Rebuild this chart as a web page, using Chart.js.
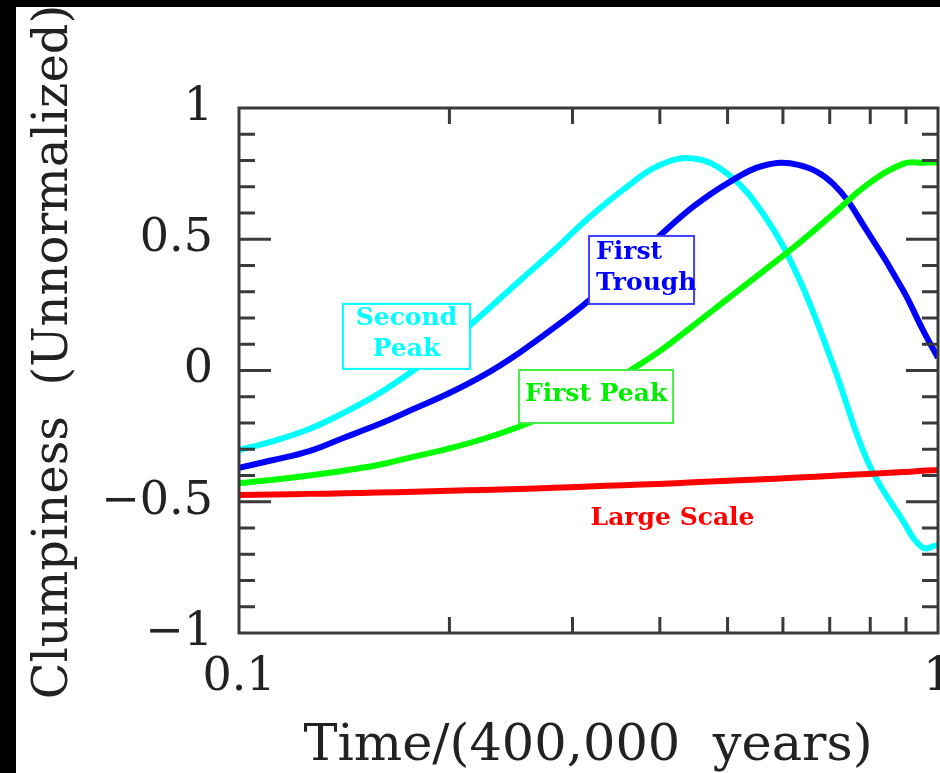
<!DOCTYPE html>
<html>
<head>
<meta charset="utf-8">
<script src="https://cdn.jsdelivr.net/npm/chart.js@4"></script>
<style>
  html, body { margin: 0; padding: 0; background: #000; overflow: hidden; }
  #wrap { position: absolute; left: 16px; top: 7px; width: 924px; height: 766px; background: #fff; }
</style>
</head>
<body>
<div id="wrap"><canvas id="chart"></canvas></div>
<script>
// time in units of 400,000 years (log axis)
const times = [0.1, 0.112, 0.126, 0.141, 0.158, 0.178, 0.2, 0.224, 0.251, 0.282, 0.316, 0.355, 0.398, 0.447, 0.501, 0.562, 0.631, 0.708, 0.794, 0.891, 0.95, 1.0];

const secondPeak = [-0.303, -0.269, -0.223, -0.162, -0.090, 0.002, 0.105, 0.219, 0.337, 0.457, 0.580, 0.690, 0.780, 0.808, 0.747, 0.597, 0.356, 0.021, -0.349, -0.573, -0.674, -0.665];
const firstTrough = [-0.371, -0.341, -0.307, -0.257, -0.206, -0.146, -0.086, -0.018, 0.065, 0.162, 0.265, 0.390, 0.509, 0.625, 0.715, 0.780, 0.783, 0.711, 0.526, 0.307, 0.158, 0.048];
const firstPeak = [-0.429, -0.416, -0.400, -0.382, -0.360, -0.328, -0.297, -0.260, -0.215, -0.160, -0.095, -0.015, 0.070, 0.172, 0.275, 0.378, 0.483, 0.596, 0.710, 0.787, 0.792, 0.792];
const largeScale = [-0.474, -0.472, -0.470, -0.468, -0.465, -0.462, -0.458, -0.455, -0.451, -0.447, -0.442, -0.437, -0.432, -0.426, -0.420, -0.414, -0.408, -0.401, -0.394, -0.387, -0.382, -0.379];

const xTitle = 'Time/(400,000  years)';
const yTitle = 'Clumpiness  (Unnormalized)';

// curve labels, anchored in data coordinates
const notes = [
    { lines: ['Second', 'Peak'], x: 0.1736, y: 0.130, w: 127, h: 65, text: '#00ffff', border: '#00ffff', align: 'center' },
    { lines: ['First', 'Trough'], x: 0.3766, y: 0.383, w: 105, h: 68, text: '#0000ff', border: '#4040ff', align: 'left' },
    { lines: ['First Peak'], x: 0.3242, y: -0.099, w: 154, h: 53, text: '#00ee00', border: '#44ee44', align: 'center' },
    { lines: ['Large Scale'], x: 0.4171, y: -0.570, text: '#ff0000', align: 'center' }
];

const points = arr => times.map((t, i) => ({ x: t, y: arr[i] }));

const curve = (label, arr, color) => ({
    label: label,
    data: points(arr),
    borderColor: color,
    borderWidth: 6,
    pointRadius: 0,
    fill: false,
    tension: 0.4
});

// 1..9 times a power of ten
const isLogTick = v => {
    const m = v / Math.pow(10, Math.floor(Math.log10(v) + 1e-9));
    return Math.abs(m - Math.round(m)) < 1e-6;
};
const isDecade = v => {
    const lg = Math.log10(v);
    return Math.abs(lg - Math.round(lg)) < 1e-6;
};

const frame = {
    id: 'frame',
    afterDatasetsDraw(chart) {
        const { ctx, chartArea: a, scales: { x, y } } = chart;
        ctx.save();

        // labels with white boxes over the curves
        notes.forEach(n => {
            const cx = x.getPixelForValue(n.x);
            const cy = y.getPixelForValue(n.y);
            if (n.w) {
                ctx.fillStyle = '#fff';
                ctx.fillRect(cx - n.w / 2, cy - n.h / 2, n.w, n.h);
                ctx.strokeStyle = n.border;
                ctx.lineWidth = 2;
                ctx.strokeRect(cx - n.w / 2, cy - n.h / 2, n.w, n.h);
            }
            ctx.font = 'bold 25px "DejaVu Serif"';
            ctx.fillStyle = n.text;
            ctx.textBaseline = 'middle';
            const step = 31;
            const y0 = cy - (n.lines.length - 1) * step / 2 - 2;
            n.lines.forEach((s, i) => {
                if (n.align === 'left') {
                    ctx.textAlign = 'left';
                    ctx.fillText(s, cx - n.w / 2 + 7, y0 + i * step);
                } else {
                    ctx.textAlign = 'center';
                    ctx.fillText(s, cx, y0 + i * step);
                }
            });
        });

        // box and inward ticks
        ctx.strokeStyle = '#3a3a3a';
        ctx.lineWidth = 3;
        ctx.strokeRect(a.left, a.top, a.right - a.left, a.bottom - a.top);
        ctx.beginPath();
        y.ticks.forEach(t => {
            const r = Math.round(t.value * 10);
            if (Math.abs(r) === 10) return;
            const len = r % 5 === 0 ? 32 : 16;
            const py = y.getPixelForValue(t.value);
            ctx.moveTo(a.left, py); ctx.lineTo(a.left + len, py);
            ctx.moveTo(a.right, py); ctx.lineTo(a.right - len, py);
        });
        x.ticks.forEach(t => {
            if (!isLogTick(t.value) || isDecade(t.value)) return;
            const px = x.getPixelForValue(t.value);
            ctx.moveTo(px, a.bottom); ctx.lineTo(px, a.bottom - 16);
            ctx.moveTo(px, a.top); ctx.lineTo(px, a.top + 16);
        });
        ctx.stroke();

        // axis titles
        ctx.fillStyle = '#222';
        ctx.textAlign = 'center';
        ctx.textBaseline = 'alphabetic';
        ctx.font = '51px "DejaVu Serif"';
        ctx.fillText(xTitle, 572, 753);
        ctx.translate(51, 345);
        ctx.rotate(-Math.PI / 2);
        ctx.font = '48px "DejaVu Serif"';
        ctx.fillText(yTitle, 0, 0);
        ctx.restore();
    }
};

new Chart(document.getElementById('chart'), {
    type: 'line',
    data: {
        datasets: [
            curve('Large Scale', largeScale, '#ff0000'),
            curve('First Peak', firstPeak, '#00ff00'),
            curve('First Trough', firstTrough, '#0000ff'),
            curve('Second Peak', secondPeak, '#00ffff')
        ]
    },
    options: {
        responsive: true,
        maintainAspectRatio: false,
        animation: false,
        layout: { padding: { top: 101, right: 2, left: 0, bottom: 0 } },
        plugins: { legend: { display: false }, tooltip: { enabled: false } },
        scales: {
            x: {
                type: 'logarithmic',
                min: 0.1,
                max: 1,
                grid: { display: false, drawTicks: false },
                border: { display: false },
                ticks: {
                    autoSkip: false,
                    maxRotation: 0,
                    padding: 17,
                    color: '#222',
                    font: { family: 'DejaVu Serif', size: 46 },
                    callback: v => isDecade(v) ? String(+v.toPrecision(3)) : ''
                },
                afterFit: s => { s.height = 140; s.paddingLeft = 0; s.paddingRight = 0; }
            },
            y: {
                min: -1,
                max: 1,
                grid: { display: false, drawTicks: false },
                border: { display: false },
                ticks: {
                    stepSize: 0.1,
                    autoSkip: false,
                    padding: 26,
                    color: '#222',
                    font: { family: 'DejaVu Serif', size: 46 },
                    callback: v => {
                        const r = Math.round(v * 10);
                        if (r % 5 !== 0) return '';
                        return r === 0 ? '0' : String(r / 10).replace('-', '\u2212');
                    }
                },
                afterFit: s => { s.width = 223; s.paddingTop = 0; s.paddingBottom = 0; }
            }
        }
    },
    plugins: [frame]
});
</script>
</body>
</html>
